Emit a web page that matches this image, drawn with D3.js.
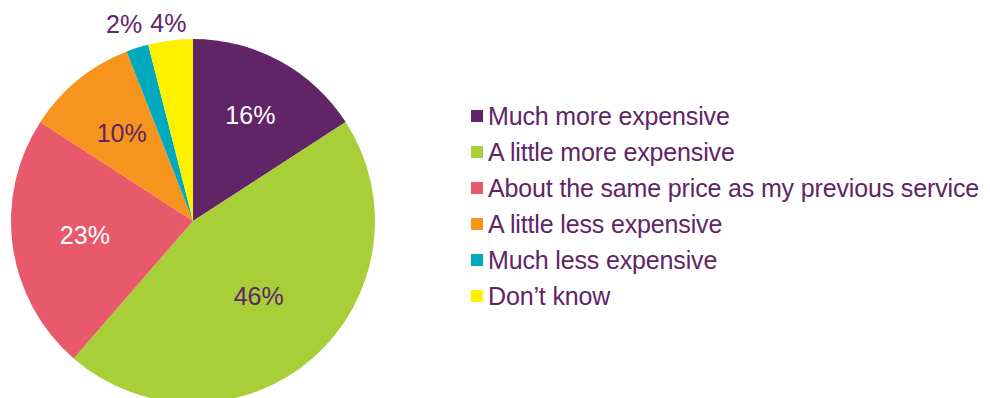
<!DOCTYPE html>
<html>
<head>
<meta charset="utf-8">
<script src="https://cdn.jsdelivr.net/npm/d3@7"></script>
<style>
  html, body { margin: 0; padding: 0; background: #ffffff; }
  svg { display: block; }
  text { font-family: "Liberation Sans", Arial, sans-serif; }
</style>
</head>
<body>
<svg id="chart" width="990" height="398"></svg>
<script>
// Survey answers: price compared with the previous service
const categories = [
  "Much more expensive",
  "A little more expensive",
  "About the same price as my previous service",
  "A little less expensive",
  "Much less expensive",
  "Don\u2019t know"
];
const shares = [16, 46, 23, 10, 2, 4];
const sliceColors = ["#612466", "#a8cf38", "#e8596b", "#f7941e", "#00a9bd", "#fff200"];
const labelColors = ["#ffffff", "#612466", "#ffffff", "#612466", "#612466", "#612466"];

// Distance of each percentage label from the centre, as a fraction of the radius
const labelRadii = [0.66, 0.55, 0.6, 0.62, 1.13, 1.09];
// Small horizontal nudges (px) so the two outside labels don't crowd each other
const labelNudgeX = [0, 0, 0, 0, -6, 0];

const textPurple = "#612466";
const cx = 193, cy = 221, radius = 182;

const svg = d3.select("#chart");

const data = categories.map((c, i) => ({
  name: c, value: shares[i], color: sliceColors[i], labelColor: labelColors[i],
  labelR: labelRadii[i], nudge: labelNudgeX[i]
}));

const pie = d3.pie().value(d => d.value).sort(null);
const arcs = pie(data);

const arc = d3.arc().innerRadius(0).outerRadius(radius);

const g = svg.append("g").attr("transform", `translate(${cx},${cy})`);

g.selectAll("path.slice")
  .data(arcs)
  .join("path")
  .attr("class", "slice")
  .attr("d", arc)
  .attr("fill", d => d.data.color);

function labelPos(d) {
  const r = radius * d.data.labelR;
  const [x, y] = d3.arc().innerRadius(r).outerRadius(r).centroid(d);
  return [x + d.data.nudge, y];
}

g.selectAll("text.pct")
  .data(arcs)
  .join("text")
  .attr("class", "pct")
  .attr("transform", d => `translate(${labelPos(d)})`)
  .attr("text-anchor", "middle")
  .attr("dy", "0.33em")
  .attr("font-size", 25)
  .attr("fill", d => d.data.labelColor)
  .text(d => d.data.value + "%");

// Legend
const legendX = 471, legendY0 = 125, rowGap = 36;
const legend = svg.append("g");
const rows = legend.selectAll("g.row")
  .data(data)
  .join("g")
  .attr("class", "row")
  .attr("transform", (d, i) => `translate(${legendX},${legendY0 + i * rowGap})`);

rows.append("rect")
  .attr("x", 0).attr("y", -15)
  .attr("width", 12).attr("height", 12)
  .attr("fill", d => d.color);

rows.append("text")
  .attr("x", 17).attr("y", 0)
  .attr("font-size", 25)
  .attr("letter-spacing", -0.15)
  .attr("fill", textPurple)
  .text(d => d.name);
</script>
</body>
</html>
